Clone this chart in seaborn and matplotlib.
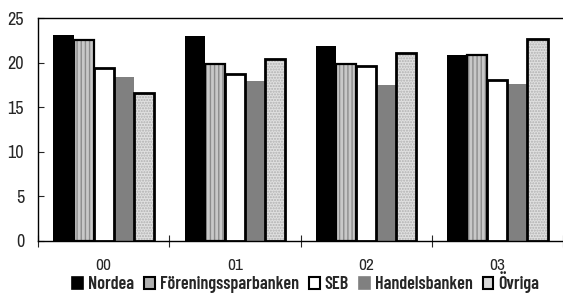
import numpy as np
import pandas as pd
import matplotlib
matplotlib.use("Agg")
import matplotlib.pyplot as plt
from matplotlib.patches import Patch, Rectangle
import seaborn as sns

years = ["00", "01", "02", "03"]
banks = ["Nordea", "Föreningssparbanken", "SEB", "Handelsbanken", "Övriga"]
nordea = [23.1, 23.0, 21.9, 20.9]
foreningssparbanken = [22.5, 19.8, 19.9, 20.8]
seb = [19.4, 18.7, 19.6, 18.1]
handelsbanken = [18.4, 17.9, 17.5, 17.6]
ovriga = [16.6, 20.4, 21.1, 22.6]

series = [nordea, foreningssparbanken, seb, handelsbanken, ovriga]
df = pd.DataFrame({
    "year": np.tile(years, len(banks)),
    "bank": np.repeat(banks, len(years)),
    "value": np.concatenate(series),
})

sns.set_style("white")
plt.rcParams["font.family"] = ["Archivo Narrow", "Roboto Condensed",
                               "Barlow Condensed", "DejaVu Sans"]
plt.rcParams["hatch.linewidth"] = 1.0

# face, hatch colour, hatch, outline width
styles = {
    "Nordea": ("#000000", None, "", 0),
    "Föreningssparbanken": ("#c8c8c8", "#8c8c8c", "||||", 1.6),
    "SEB": ("#ffffff", None, "", 2.0),
    "Handelsbanken": ("#808080", None, "", 0),
    "Övriga": ("#e0e0e0", "#b0b0b0", "......", 2.0),
}

fig = plt.figure(figsize=(5.63, 2.93), dpi=100)
ax = fig.add_axes([0.0675, 0.1775, 0.9325, 0.761])

sns.barplot(data=df, x="year", y="value", hue="bank", order=years,
            hue_order=banks, width=0.765, gap=0, legend=False, ax=ax,
            palette=["#000000"] * 5, saturation=1)

for bank, cont in zip(banks, ax.containers):
    face, hcol, hatch, lw = styles[bank]
    for bar in cont:
        bar.set_facecolor(face)
        bar.set_linewidth(0)
        if hatch:
            bar.set_hatch(hatch)
            bar.set_edgecolor(hcol)
        else:
            bar.set_edgecolor("none")
        if lw:
            ax.add_patch(Rectangle(bar.get_xy(), bar.get_width(), bar.get_height(),
                                   fill=False, edgecolor="black", linewidth=lw,
                                   zorder=bar.get_zorder() + 0.1))

ax.set_ylim(0, 25)
ax.set_xlim(-0.5, 3.48)
ax.set_yticks(range(0, 26, 5))
ax.tick_params(axis="y", direction="in", length=4, width=0.8, labelsize=13,
               pad=10, left=True)
ax.set_xticks(np.arange(-0.5, 4, 1.0))
ax.set_xticklabels([])
ax.set_xticks(range(4), minor=True)
ax.set_xticklabels(years, minor=True)
ax.tick_params(axis="x", which="major", direction="inout", length=9, width=0.8,
               bottom=True)
ax.tick_params(axis="x", which="minor", length=0, labelsize=12.5, pad=12)
ax.set_xlabel("")
ax.set_ylabel("")

for side in ["left", "bottom", "top"]:
    ax.spines[side].set_color("black")
    ax.spines[side].set_linewidth(1.0)
ax.spines["right"].set_visible(False)

handles = [
    Patch(facecolor="#000000", edgecolor="#000000", linewidth=1.2),
    Patch(facecolor="#b0b0b0", edgecolor="black", linewidth=1.5),
    Patch(facecolor="#ffffff", edgecolor="black", linewidth=1.5),
    Patch(facecolor="#808080", edgecolor="#808080", linewidth=1.2),
    Patch(facecolor="#d8d8d8", edgecolor="black", linewidth=1.5),
]
fig.legend(handles, banks, loc="center", bbox_to_anchor=(0.543, 0.036), ncol=5,
           frameon=False, handlelength=0.6, handleheight=0.6,
           handletextpad=0.28, columnspacing=0.55,
           prop={"family": ["Barlow Condensed", "Roboto Condensed", "DejaVu Sans"],
                 "weight": "semibold", "size": 13})

fig.savefig("out.png", dpi=100)
